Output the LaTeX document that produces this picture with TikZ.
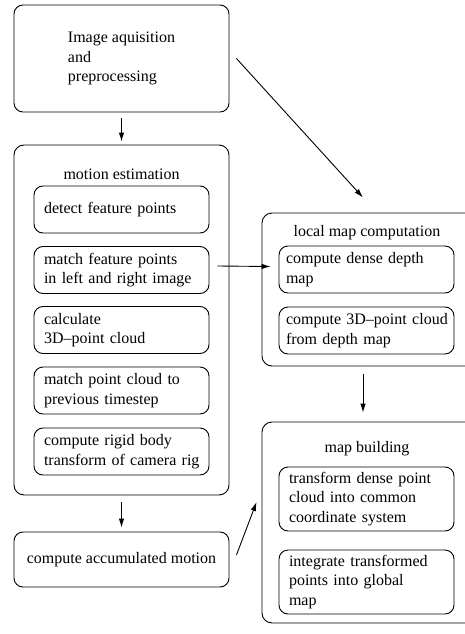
\documentclass[tikz,border=0pt]{standalone}
\usepackage{fontspec}
\setmainfont{Liberation Serif}
\usetikzlibrary{arrows.meta,calc}
\begin{document}
\begin{tikzpicture}[x=1pt,y=-1pt,
  txt/.style={font=\fontsize{16}{19.5}\selectfont},
  grp/.style={draw, line width=0.9pt, rounded corners=10pt},
  box/.style={draw, line width=0.9pt, rounded corners=9pt, txt, align=left, inner ysep=0pt},
  ibox/.style={box, minimum height=47pt, text width=155pt, inner xsep=10pt},
  rbox/.style={box, minimum height=47pt, text width=161pt, inner xsep=7pt},
  arr/.style={line width=0.9pt, -{Latex[length=9pt,width=5.5pt]}}
]
\useasboundingbox (0,0) rectangle (465,634);
\clip (0,0) rectangle (465,634);

% left column
\node[box, minimum width=215pt, minimum height=107pt] (img) at (121.5,58.5) {Image aquisition\\and\\preprocessing};
\node[grp, minimum width=215pt, minimum height=350pt] (motion) at (121.5,320) {};
\node[txt, anchor=base] (tmotion) at (121.5,179) {motion estimation};
\node[ibox] (detect) at (121.5,209.5) {detect feature points};
\node[ibox] (fmatch) at (121.5,270) {\mbox{match feature points}\\\mbox{in left and right image}};
\node[ibox] (calc) at (121.5,330) {calculate\\\mbox{3D--point cloud}};
\node[ibox] (pmatch) at (121.5,390.5) {\mbox{match point cloud to}\\\mbox{previous timestep}};
\node[ibox] (rigid) at (121.5,451.5) {\mbox{compute rigid body}\\\mbox{transform of camera rig}};
\node[box, minimum width=215pt, minimum height=55pt] (acc) at (121.5,559.5) {compute accumulated motion};

% right column (groups run past the right edge of the picture)
\node[grp, minimum width=230pt, minimum height=153pt] (local) at (377,289.5) {};
\node[txt, anchor=base] (tlocal) at (367,236) {local map computation};
\node[rbox] (dense) at (366.5,269.5) {\mbox{compute dense depth}\\map};
\node[rbox] (pcloud) at (366.5,330.5) {\mbox{compute 3D--point cloud}\\\mbox{from depth map}};

\node[grp, minimum width=230pt, minimum height=201pt] (mapb) at (377,522.5) {};
\node[txt, anchor=base] (tmapb) at (367,452) {map building};
\node[box, minimum height=64pt, text width=155pt, inner xsep=10pt] (transf) at (366.5,499) {\mbox{transform dense point}\\\mbox{cloud into common}\\\mbox{coordinate system}};
\node[box, minimum height=64pt, text width=155pt, inner xsep=10pt] (integ) at (366.5,582) {\mbox{integrate transformed}\\\mbox{points into global}\\map};

% connectors
\draw[arr] ($(img.south)+(0,6)$) -- ($(motion.north)+(0,-3)$);
\draw[arr] ($(img.east)+(7,0)$) -- ($(local.north)+(-14,-15)$);
\draw[arr] ($(fmatch.east)+(8,-4)$) -- ($(dense.west)+(-8,-3)$);
\draw[arr] ($(local.south)+(-14,8)$) -- ($(mapb.north)+(-14,-9)$);
\draw[arr] ($(motion.south)+(0,7)$) -- ($(acc.north)+(0,-4)$);
\draw[arr] ($(acc.east)+(7,-4.5)$) -- ($(mapb.west)+(-5,-20.5)$);
\end{tikzpicture}
\end{document}
